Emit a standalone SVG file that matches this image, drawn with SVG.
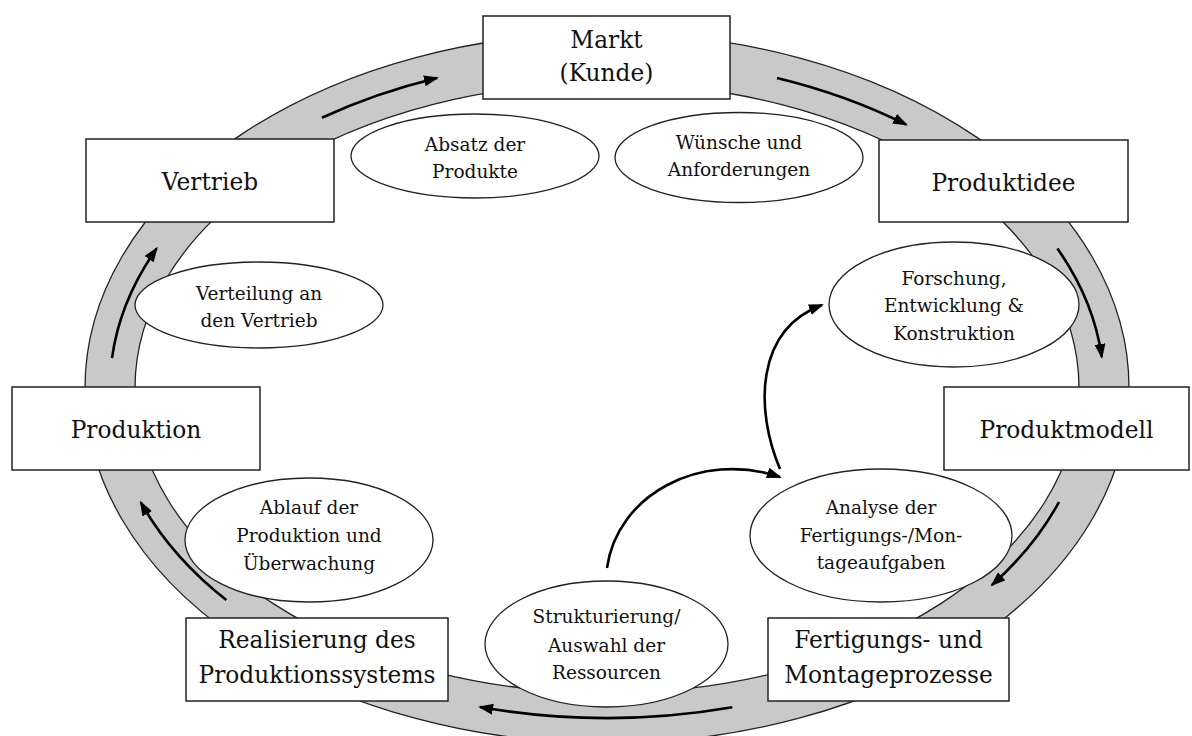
<svg xmlns="http://www.w3.org/2000/svg" width="1192" height="736" viewBox="0 0 1192 736">
<style>
.box{fill:#fff;stroke:#222;stroke-width:1.5}
.ell{fill:#fff;stroke:#222;stroke-width:1.3}
.bt{font-family:"DejaVu Serif","Liberation Serif",serif;font-size:23.3px;fill:#111;text-anchor:middle}
.et{font-family:"DejaVu Serif","Liberation Serif",serif;font-size:18.5px;fill:#111;text-anchor:middle}
.arr{fill:none;stroke:#000;stroke-width:2.6;marker-end:url(#ah)}
</style>
<defs>
<marker id="ah" markerUnits="userSpaceOnUse" markerWidth="16" markerHeight="12" refX="13" refY="5.5" orient="auto">
<path d="M0,0 L15,5.5 L0,11 z" fill="#000"/>
</marker>
</defs>
<rect width="1192" height="736" fill="#fff"/>
<g id="ring">
<path fill="#c9c9c9" fill-rule="evenodd" stroke="#222" stroke-width="1.3" d="M85,388 A522,355 0 1 1 1129,388 A522,355 0 1 1 85,388 Z M135,388 A472,305 0 1 0 1079,388 A472,305 0 1 0 135,388 Z"/>
</g>
<g id="markt"><rect class="box" x="483" y="16" width="247" height="83"/><text class="bt" x="606.5" y="48">Markt</text><text class="bt" x="606.5" y="81">(Kunde)</text></g>
<g id="produktidee"><rect class="box" x="879" y="140" width="249" height="82"/><text class="bt" x="1003.5" y="191">Produktidee</text></g>
<g id="produktmodell"><rect class="box" x="944" y="387" width="245" height="83"/><text class="bt" x="1066.5" y="438">Produktmodell</text></g>
<g id="fertigung"><rect class="box" x="768" y="618" width="241" height="83"/><text class="bt" x="888.5" y="648">Fertigungs- und</text><text class="bt" x="888.5" y="683">Montageprozesse</text></g>
<g id="realisierung"><rect class="box" x="186" y="618" width="262" height="83"/><text class="bt" x="317" y="648">Realisierung des</text><text class="bt" x="317" y="683">Produktionssystems</text></g>
<g id="produktion"><rect class="box" x="12" y="387" width="248" height="83"/><text class="bt" x="136" y="438">Produktion</text></g>
<g id="vertrieb"><rect class="box" x="86" y="139" width="248" height="83"/><text class="bt" x="210" y="190">Vertrieb</text></g>
<g id="absatz"><ellipse class="ell" cx="475" cy="156" rx="124" ry="42"/><text class="et" x="475" y="151">Absatz der</text><text class="et" x="475" y="178">Produkte</text></g>
<g id="wuensche"><ellipse class="ell" cx="739" cy="157.5" rx="124" ry="45"/><text class="et" x="739" y="149">Wünsche und</text><text class="et" x="739" y="176">Anforderungen</text></g>
<g id="forschung"><ellipse class="ell" cx="954" cy="304.5" rx="125" ry="62.5"/><text class="et" x="954" y="285">Forschung,</text><text class="et" x="954" y="312">Entwicklung &amp;</text><text class="et" x="954" y="340">Konstruktion</text></g>
<g id="verteilung"><ellipse class="ell" cx="259" cy="305" rx="124" ry="43"/><text class="et" x="259" y="300">Verteilung an</text><text class="et" x="259" y="327">den Vertrieb</text></g>
<g id="ablauf"><ellipse class="ell" cx="309" cy="540" rx="124" ry="62"/><text class="et" x="309" y="514">Ablauf der</text><text class="et" x="309" y="542">Produktion und</text><text class="et" x="309" y="570">Überwachung</text></g>
<g id="analyse"><ellipse class="ell" cx="881" cy="535.5" rx="131" ry="66.5"/><text class="et" x="881" y="514">Analyse der</text><text class="et" x="881" y="542">Fertigungs-/Mon-</text><text class="et" x="881" y="569">tageaufgaben</text></g>
<g id="strukturierung"><ellipse class="ell" cx="606.5" cy="644" rx="121.5" ry="63"/><text class="et" x="606.5" y="623">Strukturierung/</text><text class="et" x="606.5" y="652">Auswahl der</text><text class="et" x="606.5" y="679">Ressourcen</text></g>
<g id="connectors">
<path class="arr" d="M321.9,117.7 A497,330 0 0 1 437,77.9"/>
<path class="arr" d="M777,77.9 A497,330 0 0 1 906.1,124.5"/>
<path class="arr" d="M1057.4,248.5 A497,330 0 0 1 1101.8,356.9"/>
<path class="arr" d="M1059,502 A485,322 0 0 1 992,585"/>
<path class="arr" d="M732.3,707.3 A497,330 0 0 1 480.1,707"/>
<path class="arr" d="M226.3,600.1 A497,330 0 0 1 140.9,502.5"/>
<path class="arr" d="M112,358.1 A497,330 0 0 1 156.6,248.5"/>
<path class="arr" d="M607,568 C617,495 700,450 780,477"/>
<path class="arr" d="M780,469 C755,410 755,330 822,305"/>
</g>
</svg>
